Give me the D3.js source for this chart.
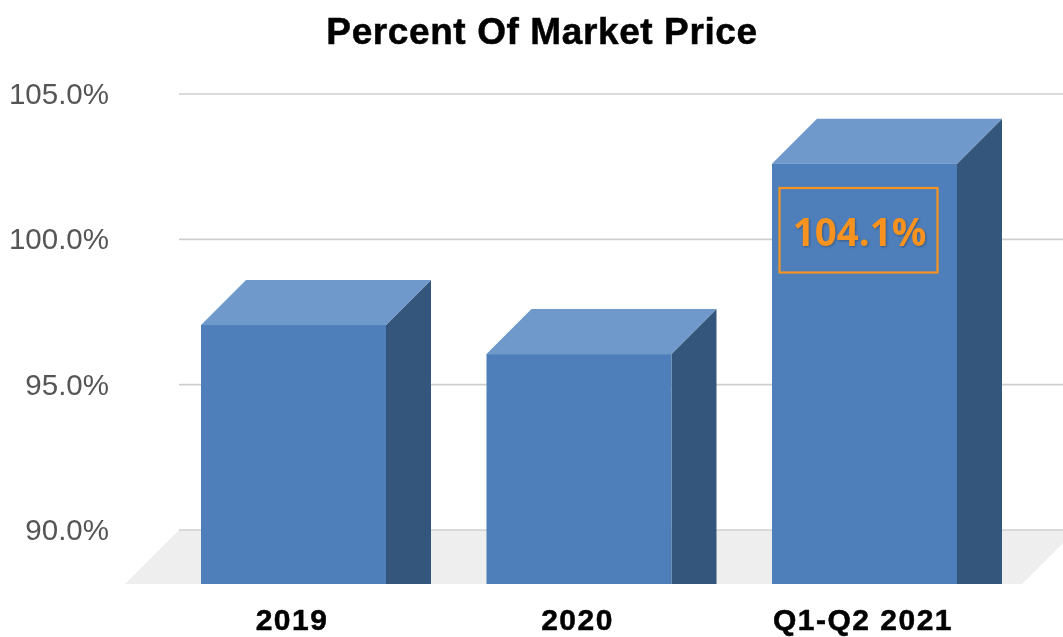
<!DOCTYPE html>
<html><head><meta charset="utf-8">
<script src="https://cdn.jsdelivr.net/npm/d3@7/dist/d3.min.js"></script>
<style>html,body{margin:0;padding:0;background:#fff;overflow:hidden}svg{display:block;filter:blur(0.45px)}text{font-family:"Liberation Sans",Arial,sans-serif}</style>
</head><body><svg id="c" width="1063" height="637"></svg>
<script>
const chartTitle = "Percent Of Market Price";
const categories = ["2019", "2020", "Q1-Q2 2021"];
const values = [98.6, 97.6, 104.15];
const yTicks = [90, 95, 100, 105];
const callout = "104.1%";

const svg = d3.select("#c");
const y = d3.scaleLinear().domain([90, 105]).range([530, 94]);
const x = d3.scaleBand().domain(categories).range([150.75, 1007.25]).paddingInner(0.352).paddingOuter(0.176);
const depth = 45, floorDepth = 54, base = 584;
const line = d3.line();

svg.append("path").attr("fill", "#eeeeee")
  .attr("d", line([[125, base], [125 + floorDepth, y(90)], [1063, y(90)], [1063, 543], [1022, base]]) + "Z");

svg.append("g").selectAll("line").data(yTicks).join("line")
  .attr("x1", 179).attr("x2", 1063)
  .attr("y1", d => y(d)).attr("y2", d => y(d))
  .attr("stroke", "#cfcfcf").attr("stroke-width", 1.6);

const axis = d3.axisLeft(y).tickValues(yTicks).tickFormat(d => d3.format(".1f")(d) + "%").tickSize(0).tickPadding(0);
const ag = svg.append("g").attr("transform", "translate(109,0)").call(axis);
ag.select(".domain").remove();
ag.selectAll("text").attr("font-size", 29.5).attr("fill", "#555555").attr("font-family", "Liberation Sans");

const bars = svg.append("g").selectAll("g").data(categories).join("g");
bars.append("path").attr("fill", "#34567d")
  .attr("d", (c, i) => { const r = x(c) + x.bandwidth(), t = y(values[i]);
    return line([[r, t + depth], [r + depth, t], [r + depth, base], [r, base]]) + "Z"; });
bars.append("path").attr("fill", "#7099cb")
  .attr("d", (c, i) => { const l = x(c), r = l + x.bandwidth(), t = y(values[i]);
    return line([[l, t + depth], [l + depth, t], [r + depth, t], [r, t + depth]]) + "Z"; });
bars.append("rect").attr("fill", "#4e7fba")
  .attr("x", c => x(c)).attr("width", x.bandwidth())
  .attr("y", (c, i) => y(values[i]) + depth)
  .attr("height", (c, i) => base - y(values[i]) - depth);

const xa = d3.axisBottom(x).tickSize(0).tickPadding(0);
const xg = svg.append("g").attr("transform", "translate(-1.5,604)").call(xa);
xg.select(".domain").remove();
xg.selectAll("text").attr("font-size", 30).attr("font-weight", "bold").attr("fill", "#000")
  .attr("font-family", "Liberation Sans").attr("letter-spacing", 1.5)
  .attr("stroke", "#000").attr("stroke-width", 0.5)
  .attr("y", 0).attr("dy", "26px");

svg.append("text").attr("x", 542).attr("y", 44).attr("text-anchor", "middle")
  .attr("font-size", 37).attr("font-weight", "bold").attr("fill", "#000")
  .attr("letter-spacing", 0.6).attr("stroke", "#000").attr("stroke-width", 0.5).text(chartTitle);

const lc = categories[2];
svg.append("rect").attr("x", x(lc) + 7.5).attr("y", 188).attr("width", 158).attr("height", 84.5)
  .attr("fill", "none").attr("stroke", "#f7931e").attr("stroke-width", 2.2);
svg.append("text").attr("x", x(lc) + 87.5).attr("y", 246).attr("text-anchor", "middle")
  .attr("font-size", 38.5).attr("font-weight", "bold")
  .attr("fill", "#f7931e").attr("style", "filter:drop-shadow(1px 1px 1px rgba(40,50,80,.5));font-family:'Open Sans'").text(callout);
</script></body></html>
